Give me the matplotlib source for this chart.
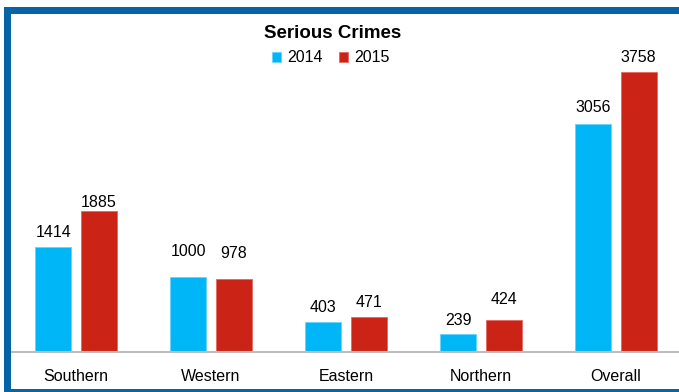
import numpy as np
import matplotlib
matplotlib.use('Agg')
import matplotlib.pyplot as plt
from matplotlib.patches import Rectangle

plt.rcParams['font.family'] = ['Liberation Sans', 'DejaVu Sans']

# Serious crimes by region
regions = ['Southern', 'Western', 'Eastern', 'Northern', 'Overall']
crimes_2014 = [1414, 1000, 403, 239, 3056]
crimes_2015 = [1885, 978, 471, 424, 3758]

# gap (pixels) between bar top and the centre of its value label
gap_2014 = [14, 26, 14, 13.5, 17]
gap_2015 = [9, 26, 14, 21, 14]

blue = '#00B6F6'
red = '#CC2317'
frame = '#0563A6'

W, H = 679, 392
fig = plt.figure(figsize=(W / 100, H / 100), dpi=100)

# plot area: baseline at y=352, top just under the frame
ax = fig.add_axes([11 / W, (H - 352) / H, 668 / W, 338 / H])

x = np.arange(len(regions))
width = 0.267
off = 0.168
b1 = ax.bar(x - off, crimes_2014, width, color=blue, edgecolor='#66d4fb',
            linewidth=0.6, label='2014')
b2 = ax.bar(x + off, crimes_2015, width, color=red, edgecolor='#e2685f',
            linewidth=0.6, label='2015')

for bars, vals, gaps in [(b1, crimes_2014, gap_2014), (b2, crimes_2015, gap_2015)]:
    for rect, v, g in zip(bars, vals, gaps):
        ax.annotate(str(v), (rect.get_x() + rect.get_width() / 2, v),
                    xytext=(0, g * 0.72), textcoords='offset points',
                    ha='center', va='center', fontsize=11.5, color='black')

ax.set_xlim((11 - 76) / 135, (679 - 76) / 135)
ax.set_ylim(0, 338 / 0.07455)
ax.set_xticks(x)
ax.set_xticklabels(regions, fontsize=11.5)
ax.tick_params(axis='x', length=0, pad=12.5)
ax.set_yticks([])
for s in ['top', 'left', 'right']:
    ax.spines[s].set_visible(False)
ax.spines['bottom'].set_color('#BDBDBD')
ax.spines['bottom'].set_linewidth(1.5)

fig.text(333 / W, 1 - 33 / H, 'Serious Crimes', ha='center', va='center',
         fontsize=13.5, fontweight='bold')
fig.legend(handles=[b1, b2], loc='center', bbox_to_anchor=(331 / W, 1 - 58 / H),
           ncol=2, frameon=False, fontsize=11.5, handlelength=0.55,
           handleheight=0.55, handletextpad=0.4, columnspacing=1.0,
           borderpad=0)

# blue frame on the top, left and bottom edges
fig.patches.append(Rectangle((4 / W, 1 - 14 / H), 1, 7 / H, transform=fig.transFigure,
                             facecolor=frame, edgecolor='none', zorder=5))
fig.patches.append(Rectangle((4 / W, 0), 7 / W, 1 - 7 / H, transform=fig.transFigure,
                             facecolor=frame, edgecolor='none', zorder=5))
fig.patches.append(Rectangle((4 / W, 0), 1, 3 / H, transform=fig.transFigure,
                             facecolor=frame, edgecolor='none', zorder=5))

fig.savefig('out.png', dpi=100)
